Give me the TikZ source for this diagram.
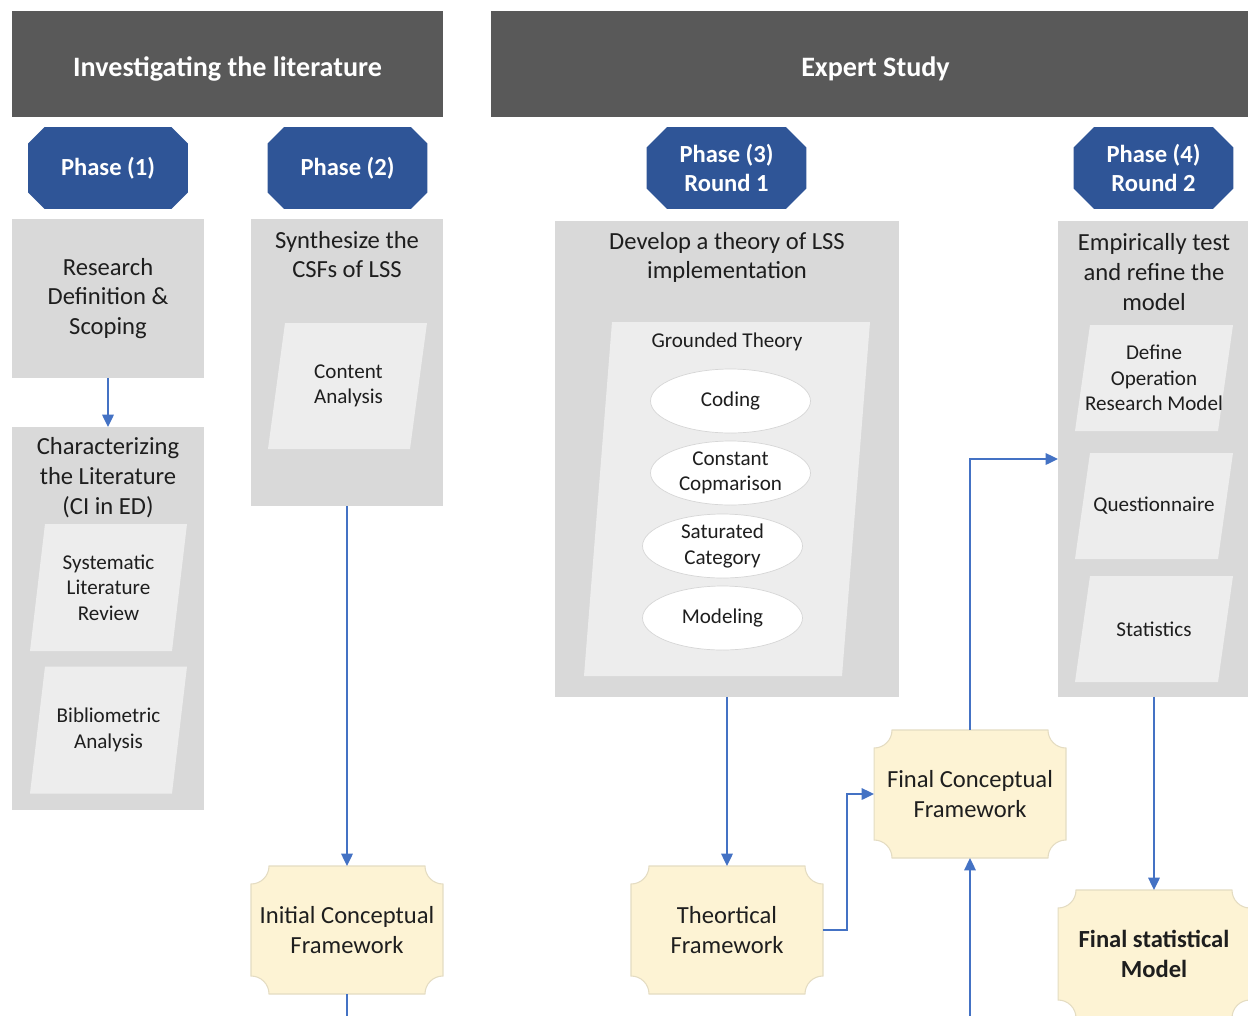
\documentclass[tikz,border=0pt]{standalone}
\usepackage{fontspec}
\setmainfont{Carlito}
\usetikzlibrary{shapes.geometric,shapes.misc,arrows.meta,calc}
\pgfdeclarelayer{background}
\pgfsetlayers{background,main}
\definecolor{hdrgray}{HTML}{595959}
\definecolor{phaseblue}{HTML}{2F5597}
\definecolor{boxgray}{HTML}{D9D9D9}
\definecolor{parafill}{HTML}{EDEDED}
\definecolor{ovalline}{HTML}{D6D6D6}
\definecolor{plaquefill}{HTML}{FDF3D4}
\definecolor{plaqueline}{HTML}{E4DCC2}
\definecolor{arrowblue}{HTML}{4472C4}
\definecolor{textc}{HTML}{1E1E1E}
\newcommand{\plaqueback}[1]{%
  \begin{pgfonlayer}{background}
    \draw[fill=plaquefill,draw=plaqueline,line width=0.6pt]
      ($(#1.north west)+(0,-0.36cm)$) arc[start angle=270,end angle=360,radius=0.36cm]
      -- ($(#1.north east)+(-0.36cm,0)$) arc[start angle=180,end angle=270,radius=0.36cm]
      -- ($(#1.south east)+(0,0.36cm)$) arc[start angle=90,end angle=180,radius=0.36cm]
      -- ($(#1.south west)+(0.36cm,0)$) arc[start angle=0,end angle=90,radius=0.36cm]
      -- cycle;
  \end{pgfonlayer}}
\newcommand{\slantfill}[5]{%
  \fill[parafill] ({#1-(#3+#5)/2},{#2-#4/2}) -- ({#1+(#3-#5)/2},{#2-#4/2})
    -- ({#1+(#3+#5)/2},{#2+#4/2}) -- ({#1-(#3-#5)/2},{#2+#4/2}) -- cycle;}

\begin{document}
\begin{tikzpicture}[x=0.02cm,y=0.02cm,
  hdr/.style={fill=hdrgray,text=white,font=\fontsize{16}{19}\selectfont\bfseries,minimum height=2.12cm,inner sep=0pt,text height=14pt,text depth=0pt},
  phasebox/.style={chamfered rectangle,chamfered rectangle xsep=0.3cm,fill=phaseblue,text=white,font=\fontsize{14}{17}\selectfont\bfseries,minimum width=3.2cm,minimum height=1.64cm,inner sep=0pt,align=center},
  graybox/.style={fill=boxgray,minimum width=3.84cm,inner sep=0pt,outer sep=0pt},
  bigtext/.style={text=textc,font=\fontsize{14}{17}\selectfont,align=center,inner sep=0pt},
  smalltext/.style={text=textc,font=\fontsize{12}{14.5}\selectfont,align=center,inner sep=0pt},
  oval/.style={ellipse,fill=white,draw=ovalline,minimum width=3.2cm,minimum height=1.28cm,inner sep=0pt,text=textc,font=\fontsize{12}{14.5}\selectfont,align=center},
  plaque/.style={minimum width=3.84cm,minimum height=2.56cm,inner sep=0pt,outer sep=0pt,text=textc,font=\fontsize{14}{17}\selectfont,align=center},
  flowline/.style={draw=arrowblue,line width=1.1pt},
  flow/.style={flowline,-{Triangle[length=7pt,width=6.5pt]}}]
    \useasboundingbox (0,0) rectangle (1248,-1015);
    \clip (0,0) rectangle (1248,-1015);
    \draw (227.5,-64) node (lit) [hdr,minimum width=8.62cm] {Investigating the literature};
    \draw (875.5,-64) node (expert) [hdr,minimum width=15.38cm] {Expert Study};
    \draw (108,-168) node (ph1) [phasebox] {Phase (1)};
    \draw (347.5,-168) node (ph2) [phasebox] {Phase (2)};
    \draw (726.5,-168) node (ph3) [phasebox] {Phase (3)\\Round 1};
    \draw (1153.5,-168) node (ph4) [phasebox] {Phase (4)\\Round 2};

    \draw (108,-298.5) node (research) [graybox,minimum height=3.18cm,bigtext] {Research\\Definition \&\\Scoping};
    \draw (108,-618.5) node (charact) [graybox,minimum height=7.66cm] {};
    \draw (108,-478) node (charact-t) [bigtext] {Characterizing\\the Literature\\(CI in ED)};
    \slantfill{108.5}{-587.5}{142}{127}{15}
    \draw (108.5,-587.5) node (slr) [smalltext] {Systematic\\Literature\\Review};
    \slantfill{108.5}{-730}{142}{127}{15}
    \draw (108.5,-730) node (bib) [smalltext] {Bibliometric\\Analysis};

    \draw (347,-362.5) node (synth) [graybox,minimum height=5.74cm] {};
    \draw (347,-254.5) node (synth-t) [bigtext] {Synthesize the\\CSFs of LSS};
    \slantfill{347.5}{-386}{142}{126}{17}
    \draw (348.5,-386) node (content) [smalltext] {Content\\Analysis};

    \draw (727,-459) node (develop) [graybox,minimum width=6.88cm,minimum height=9.52cm] {};
    \draw (727,-257.5) node (develop-t) [bigtext] {Develop a theory of LSS\\implementation};
    \slantfill{727}{-499}{258}{354}{28}
    \draw (727,-342) node (gt) [smalltext] {Grounded Theory};
    \draw (730.5,-401) node (coding) [oval] {Coding};
    \draw (730.5,-473) node (constant) [oval] {Constant\\Copmarison};
    \draw (722.5,-546) node (saturated) [oval] {Saturated\\Category};
    \draw (722.5,-618) node (modeling) [oval] {Modeling};

    \draw (1154,-459) node (empir) [graybox,minimum height=9.52cm] {};
    \draw (1154,-272) node (empir-t) [bigtext] {Empirically test\\and refine the\\model};
    \slantfill{1154}{-378}{143}{106}{15}
    \draw (1154,-378) node (define) [smalltext] {Define\\Operation\\Research Model};
    \slantfill{1154}{-506}{143}{106}{15}
    \draw (1154,-506) node (quest) [smalltext] {Questionnaire};
    \slantfill{1154}{-629}{143}{106}{15}
    \draw (1154,-629) node (stats) [smalltext] {Statistics};

    \draw (347,-930) node (init) [plaque] {Initial Conceptual\\Framework}; \plaqueback{init}
    \draw (727,-930) node (theo) [plaque] {Theortical\\Framework}; \plaqueback{theo}
    \draw (970,-794) node (finalc) [plaque] {Final Conceptual\\Framework}; \plaqueback{finalc}
    \draw (1154,-954) node (finalm) [plaque,font=\fontsize{14}{17}\selectfont\bfseries] {Final statistical\\Model}; \plaqueback{finalm}
    \coordinate (outinit) at (347,-1040);
    \coordinate (infinal) at (970,-1040);

    \draw[flow] (research) -- (charact);
    \draw[flow] (synth) -- (init);
    \draw[flowline] (init) -- (outinit);
    \draw[flow] (develop) -- (theo);
    \draw[flow] (theo.east) -- ++(0.48cm,0) |- (finalc.west);
    \draw[flow] (finalc) |- (empir.west);
    \draw[flow] (infinal) -- (finalc);
    \draw[flow] (empir) -- (finalm);
\end{tikzpicture}
\end{document}
